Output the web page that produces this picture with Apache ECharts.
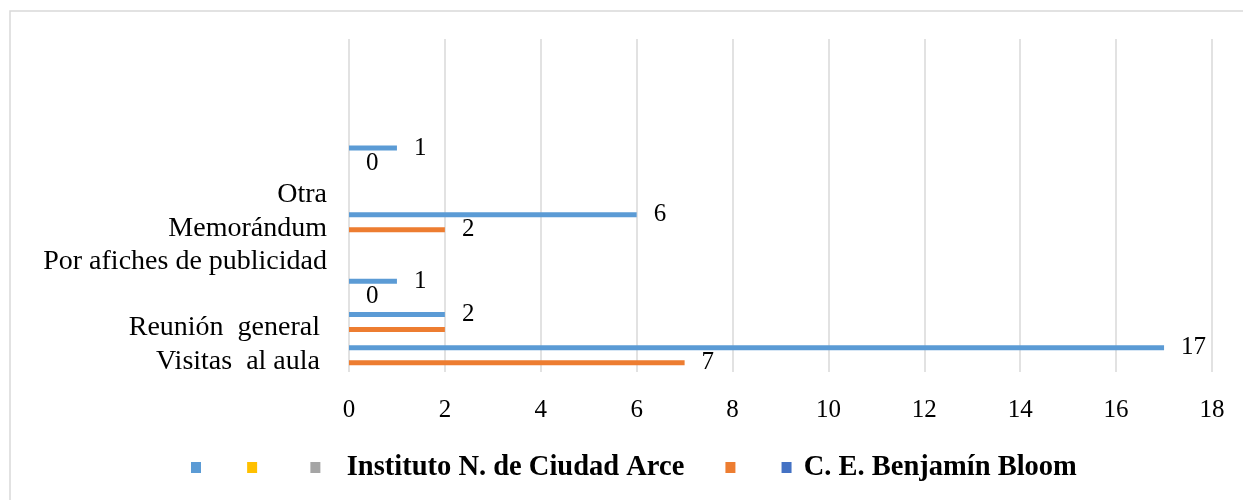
<!DOCTYPE html>
<html>
<head>
<meta charset="utf-8">
<script src="https://cdn.jsdelivr.net/npm/echarts@6/dist/echarts.min.js"></script>
<style>
  html, body { margin: 0; padding: 0; background: #fff; }
  #chart { width: 1243px; height: 500px; }
</style>
</head>
<body>
<div id="chart"></div>
<script>
// Category slots, bottom to top (some slots carry no label)
const categories = [
  'Visitas  al aula ',
  'Reunión  general ',
  '',
  'Por afiches de publicidad',
  'Memorándum',
  'Otra',
  '',
  '',
  '',
  ''
];

// Series values per slot (null = no bar)
const blueValues   = [17, 2, 1, null, 6, null, 1, null, null, null];
const orangeValues = [7, 2, 0, null, 2, null, 0, null, null, null];

// Legend entries (names as they appear, including blank ones)
const legendNames = [' ', ' \u00a0', '   Instituto N. de Ciudad Arce ', '\u00a0', ' C. E. Benjamín Bloom'];
const legendColors = ['#5B9BD5', '#FFC000', '#A5A5A5', '#ED7D31', '#4472C4'];

// Value axis ticks
const xMin = 0, xMax = 18, xStep = 2;

const serif = '"Liberation Serif", "Times New Roman", serif';

const chart = echarts.init(document.getElementById('chart'));

const barLabel = {
  show: true,
  position: 'right',
  distance: 17,
  color: '#000',
  fontFamily: serif,
  fontSize: 25
};

const series = [
  {
    name: legendNames[0],
    type: 'bar',
    data: blueValues,
    barWidth: 5,
    barGap: '200%',
    itemStyle: { color: legendColors[0] },
    label: Object.assign({}, barLabel, { offset: [0, 2] }),
    labelLayout: { hideOverlap: true }
  },
  {
    name: legendNames[3],
    type: 'bar',
    data: orangeValues,
    barWidth: 5,
    barGap: '200%',
    itemStyle: { color: legendColors[3] },
    label: Object.assign({}, barLabel, { offset: [0, 2] }),
    labelLayout: { hideOverlap: true }
  },
  { name: legendNames[1], type: 'line', data: [], itemStyle: { color: legendColors[1] } },
  { name: legendNames[2], type: 'line', data: [], itemStyle: { color: legendColors[2] } },
  { name: legendNames[4], type: 'line', data: [], itemStyle: { color: legendColors[4] } }
];

chart.setOption({
  animation: false,
  backgroundColor: '#fff',
  graphic: [{
    type: 'rect',
    shape: { x: 10, y: 11, width: 1400, height: 700 },
    style: { fill: 'none', stroke: '#D9D9D9', lineWidth: 1.5 },
    silent: true
  }],
  grid: { left: 349, right: 31, top: 39, bottom: 128, containLabel: false },
  legend: {
    data: legendNames,
    bottom: 13,
    left: 186,
    icon: 'rect',
    itemWidth: 10,
    itemHeight: 11,
    itemGap: 34,
    textStyle: {
      fontFamily: serif,
      fontWeight: 'bold',
      fontSize: 28.5,
      color: '#000'
    }
  },
  xAxis: {
    type: 'value',
    min: xMin,
    max: xMax,
    interval: xStep,
    axisLine: { show: false },
    axisTick: { show: false },
    splitLine: { show: true, lineStyle: { color: '#D9D9D9', width: 1.5 } },
    axisLabel: {
      margin: 26,
      color: '#000',
      fontFamily: serif,
      fontSize: 25
    }
  },
  yAxis: {
    type: 'category',
    data: categories,
    axisLine: { show: false },
    axisTick: { show: false },
    axisLabel: {
      margin: 22,
      interval: 0,
      color: '#000',
      fontFamily: serif,
      fontSize: 28,
      verticalAlign: 'top',
      lineHeight: 12
    }
  },
  series: series
});
</script>
</body>
</html>
